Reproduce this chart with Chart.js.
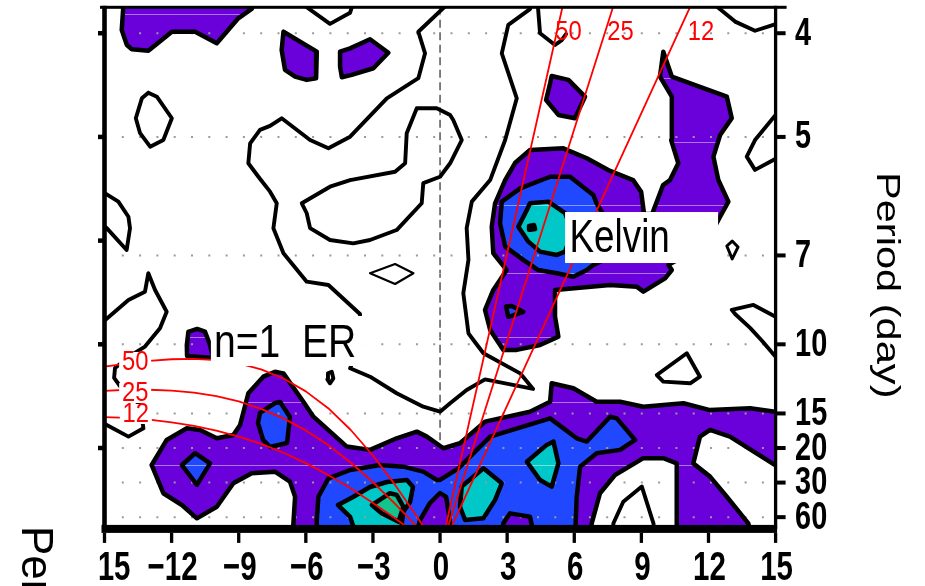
<!DOCTYPE html>
<html>
<head>
<meta charset="utf-8">
<title>Wavenumber-frequency spectrum</title>
<script src="https://cdn.jsdelivr.net/npm/chart.js@4.4.1/dist/chart.umd.min.js"></script>
<style>
  html, body { margin: 0; padding: 0; background: #ffffff; overflow: hidden; }
  canvas { display: block; }
</style>
</head>
<body>
<canvas id="spectrum" width="925" height="586"></canvas>
<script>
// ---- axes -------------------------------------------------------------
const wavenumberTicks = [-15, -12, -9, -6, -3, 0, 3, 6, 9, 12, 15];
const periodTicks = [4, 5, 7, 10, 15, 20, 30, 60];          // days
const frequencyTicks = [0.05, 0.10, 0.15, 0.20, 0.25];      // cpd
const wavenumberRange = [-15, 15];
const frequencyRange = [0.011, 0.2625];

// ---- shallow-water dispersion curves (equivalent depth, m) -----------
const equivalentDepths = ['50', '25', '12'];
const kelvinTopWavenumber = [5.47, 7.73, 11.17];   // wavenumber where each Kelvin line leaves the top
const erWavenumbers = [-15, -14, -13, -12, -11, -10, -9, -8, -7, -6, -5, -4, -3, -2, -1, 0];
const er50 = [0.0892, 0.0907, 0.0920, 0.0928, 0.0930, 0.0924, 0.0908, 0.0879, 0.0835, 0.0773, 0.0692, 0.0588, 0.0464, 0.0321, 0.0164, 0];
const er25 = [0.0776, 0.0781, 0.0781, 0.0777, 0.0767, 0.0750, 0.0725, 0.0689, 0.0643, 0.0585, 0.0514, 0.0430, 0.0335, 0.0229, 0.0117, 0];
const er12 = [0.0649, 0.0645, 0.0637, 0.0624, 0.0607, 0.0584, 0.0555, 0.0520, 0.0477, 0.0427, 0.0370, 0.0306, 0.0235, 0.0160, 0.0081, 0];
const kelvinLabelAt = [[5.74, 0.2506], [8.07, 0.2506], [11.67, 0.2506]];
const erLabelAt = [[-13.63, 0.0915], [-13.63, 0.0765], [-13.60, 0.0664]];
const waveNames = ['Kelvin', 'n=1  ER'];
const waveNameAt = [[5.79, 0.1445], [-10.11, 0.0939]];

// ---- contoured spectral power: [wavenumber, frequency] vertices -------
// first shading level
const purpleTopLeft = [[-14.13,0.2675],[-14.23,0.2516],[-14.00,0.2443],[-13.78,0.2423],[-13.04,0.2416],[-12.22,0.2487],[-11.99,0.2507],[-10.95,0.2507],[-9.98,0.2452],[-9.02,0.2572],[-8.42,0.2617],[-8.23,0.2675]];
const purpleBlobWest = [[-7.00,0.2507],[-5.51,0.2411],[-5.54,0.2283],[-5.96,0.2275],[-6.48,0.2291],[-6.93,0.2323],[-7.08,0.2419]];
const purpleBlobEast = [[-4.47,0.2411],[-4.02,0.2427],[-3.13,0.2471],[-2.31,0.2406],[-2.98,0.2331],[-3.95,0.2299],[-4.39,0.2288],[-4.47,0.2339]];
const purpleKelvinTop = [[4.99,0.2294],[5.74,0.2275],[6.48,0.2194],[6.03,0.2090],[5.29,0.2106],[4.74,0.2178],[4.92,0.2259]];
const purpleKelvin = [[2.38,0.1439],[2.31,0.1567],[2.46,0.1680],[2.91,0.1792],[3.35,0.1874],[4.02,0.1937],[5.51,0.1945],[6.56,0.1897],[7.60,0.1836],[8.63,0.1792],[8.99,0.1735],[9.12,0.1628],[9.48,0.1628],[9.97,0.1768],[10.28,0.1792],[10.65,0.1873],[10.33,0.1985],[10.36,0.2194],[9.83,0.2291],[9.98,0.2411],[10.36,0.2291],[12.82,0.2194],[13.04,0.2090],[12.52,0.2009],[12.22,0.1905],[12.44,0.1792],[12.89,0.1688],[12.52,0.1615],[11.85,0.1479],[10.21,0.1383],[10.36,0.1358],[10.06,0.1318],[9.09,0.1254],[8.79,0.1278],[7.60,0.1286],[5.14,0.1262],[5.14,0.1133],[5.29,0.1037],[4.47,0.0997],[3.43,0.0973],[2.83,0.0973],[2.24,0.1069],[2.01,0.1166],[2.38,0.1262],[2.98,0.1358]];
const purpleErSmall = [[-11.25,0.1060],[-10.86,0.1074],[-10.51,0.1061],[-10.28,0.0997],[-10.15,0.0934],[-11.31,0.0944],[-11.32,0.0997]];
const purpleLowBand = [[-12.89,0.0418],[-12.22,0.0539],[-11.32,0.0595],[-10.73,0.0587],[-9.98,0.0547],[-9.24,0.0563],[-8.94,0.0611],[-8.57,0.0764],[-7.90,0.0844],[-7.38,0.0868],[-7.00,0.0860],[-6.11,0.0723],[-5.66,0.0651],[-4.17,0.0507],[-3.13,0.0491],[-1.94,0.0547],[-1.04,0.0579],[-0.59,0.0555],[0.15,0.0499],[0.89,0.0523],[2.01,0.0627],[4.02,0.0675],[4.92,0.0723],[4.99,0.0812],[5.96,0.0788],[7.00,0.0723],[8.05,0.0723],[9.09,0.0699],[10.88,0.0716],[12.07,0.0683],[13.86,0.0692],[14.98,0.0675],[15.65,0.0674],[15.65,0.0394],[14.98,0.0418],[12.96,0.0555],[12.07,0.0587],[11.62,0.0555],[11.32,0.0426],[12.07,0.0362],[12.82,0.0265],[13.78,0.0137],[13.95,0.0057],[10.59,0.0057],[10.58,0.0137],[10.58,0.0426],[9.98,0.0451],[9.09,0.0451],[7.82,0.0370],[7.15,0.0282],[6.78,0.0137],[6.71,0.0057],[-6.57,0.0057],[-6.56,0.0129],[-6.48,0.0265],[-6.71,0.0338],[-7.38,0.0386],[-8.42,0.0378],[-9.24,0.0330],[-9.98,0.0217],[-10.87,0.0161],[-11.54,0.0225],[-12.37,0.0282]];
const purpleNotchZero = [[-1.16,0.0057],[-0.89,0.0153],[-0.45,0.0235],[0.00,0.0283],[0.27,0.0264],[0.40,0.0177],[0.54,0.0057]];
const purpleNotchEast = [[2.82,0.0057],[2.83,0.0137],[3.13,0.0185],[4.02,0.0169],[4.25,0.0057]];
// second shading level
const blueErWest = [[-11.54,0.0418],[-10.95,0.0475],[-10.28,0.0426],[-10.87,0.0322]];
const blueErMid = [[-8.05,0.0669],[-7.38,0.0717],[-7.15,0.0722],[-6.71,0.0650],[-6.84,0.0524],[-7.60,0.0505],[-7.91,0.0539],[-8.14,0.0621]];
const blueLowBand = [[-5.51,0.0057],[-5.51,0.0153],[-5.44,0.0265],[-4.99,0.0354],[-4.02,0.0394],[-2.68,0.0418],[-1.64,0.0410],[-0.75,0.0386],[-0.15,0.0346],[0.00,0.0346],[0.82,0.0402],[2.24,0.0555],[4.92,0.0643],[6.11,0.0547],[6.56,0.0531],[7.60,0.0651],[7.90,0.0643],[8.72,0.0539],[8.05,0.0491],[7.00,0.0475],[6.26,0.0410],[6.11,0.0265],[6.03,0.0057]];
const blueKelvin = [[2.76,0.1688],[3.58,0.1752],[4.92,0.1808],[5.81,0.1808],[6.85,0.1720],[7.00,0.1680],[7.29,0.1628],[7.69,0.1513],[7.15,0.1397],[6.85,0.1383],[6.56,0.1358],[5.96,0.1326],[5.22,0.1343],[4.39,0.1358],[3.72,0.1407],[2.91,0.1471],[2.68,0.1584]];
const blueKelvinSpeck = [[2.95,0.1182],[3.20,0.1185],[3.72,0.1157],[3.20,0.1137],[3.05,0.1133]];
// third shading level
const cyanEr = [[-4.56,0.0225],[-3.89,0.0264],[-3.13,0.0312],[-2.37,0.0336],[-1.48,0.0346],[-1.21,0.0312],[-1.34,0.0240],[-1.65,0.0192],[-1.79,0.0057],[-3.67,0.0057],[-4.02,0.0168]];
const cyanLowWest = [[0.97,0.0314],[1.94,0.0402],[2.76,0.0330],[2.46,0.0250],[1.94,0.0161],[1.12,0.0153],[0.89,0.0217]];
const cyanLowEast = [[3.88,0.0434],[4.77,0.0515],[5.07,0.0531],[5.29,0.0426],[4.99,0.0314],[4.47,0.0346]];
const cyanKelvin = [[3.88,0.1648],[4.02,0.1680],[4.84,0.1688],[5.59,0.1633],[5.90,0.1542],[5.59,0.1447],[5.22,0.1431],[4.47,0.1447],[3.95,0.1495],[3.50,0.1567]];
// fourth shading level
const greenEr = [[-3.05,0.0225],[-2.24,0.0282],[-1.94,0.0274],[-1.64,0.0217],[-1.86,0.0145],[-2.61,0.0185]];
const greenKelvin = [[3.98,0.1571],[4.20,0.1575],[4.25,0.1556],[4.02,0.1552]];
// unshaded contour lines
const loopNorthWest = [[-13.04,0.2213],[-12.66,0.2194],[-11.99,0.2090],[-12.37,0.1985],[-12.96,0.1953],[-13.41,0.2018],[-13.60,0.2090],[-13.33,0.2186]];
const lineTopV = [[-6.60,0.2675],[-4.92,0.2545],[-4.02,0.2599],[-3.80,0.2675]];
const valleyContour = [[0.67,0.2675],[-0.97,0.2507],[-0.67,0.2403],[-0.97,0.2283],[-2.38,0.2186],[-4.02,0.2001],[-4.99,0.1945],[-5.81,0.1985],[-7.08,0.2090],[-7.60,0.2053],[-8.05,0.2034],[-8.49,0.1969],[-8.57,0.1873],[-8.12,0.1808],[-7.60,0.1736],[-7.30,0.1680],[-7.45,0.1560],[-7.00,0.1439],[-5.96,0.1302],[-4.99,0.1286],[-3.58,0.1146],[-3.49,0.1021],[-4.02,0.0885],[-3.13,0.0844],[-1.94,0.0764],[-0.75,0.0699],[0.00,0.0675],[0.45,0.0716],[1.19,0.0780],[2.01,0.0831],[4.16,0.0785],[3.58,0.0860],[1.94,0.0957],[1.49,0.1021],[1.27,0.1053],[1.04,0.1246],[1.27,0.1407],[1.19,0.1560],[1.42,0.1688],[2.24,0.1792],[2.91,0.1985],[3.43,0.2186],[2.76,0.2403],[3.05,0.2540],[4.02,0.2616],[4.16,0.2675]];
const loopCentral = [[-4.02,0.1792],[-2.01,0.1832],[-1.56,0.1873],[-1.49,0.2018],[-1.04,0.2138],[-0.15,0.2138],[0.45,0.2106],[0.59,0.2082],[0.97,0.1985],[0.45,0.1873],[0.00,0.1808],[-0.75,0.1777],[-0.82,0.1680],[-1.94,0.1551],[-3.13,0.1503],[-3.88,0.1487],[-4.92,0.1503],[-5.81,0.1560],[-5.96,0.1632],[-6.18,0.1680],[-4.92,0.1760]];
const diamondCentral = [[-3.13,0.1343],[-2.01,0.1387],[-1.19,0.1343],[-2.01,0.1291]];
const lineTopLip = [[4.34,0.2675],[4.47,0.2500],[5.14,0.2443],[5.44,0.2467],[5.63,0.2496]];
const lineTopEast = [[11.85,0.2675],[13.19,0.2556],[14.08,0.2512],[14.90,0.2540],[15.65,0.2564]];
const diamondEast = [[12.82,0.1474],[13.06,0.1498],[13.32,0.1469],[13.06,0.1412]];
const tongueEast = [[15.65,0.1093],[15.00,0.1133],[14.01,0.1190],[13.04,0.1166],[13.19,0.1146],[13.86,0.1079],[14.40,0.1016],[15.00,0.0940],[15.65,0.0867]];
const tongueEastUpper = [[15.65,0.2178],[15.00,0.2106],[14.08,0.1985],[13.71,0.1905],[14.08,0.1841],[14.90,0.1889],[15.65,0.1932]];
const loopWestEdge = [[-15.65,0.1768],[-14.97,0.1728],[-14.38,0.1688],[-13.93,0.1615],[-13.86,0.1560],[-14.01,0.1455],[-14.90,0.1560],[-15.65,0.1619]];
const lineWestEdge = [[-15.65,0.1069],[-14.97,0.1117],[-13.93,0.1214],[-13.19,0.1254],[-13.04,0.1343],[-12.74,0.1262],[-12.22,0.1157],[-12.52,0.1077],[-13.19,0.0989],[-13.86,0.0944],[-14.53,0.0886],[-14.57,0.0838],[-14.31,0.0799],[-13.41,0.0708],[-13.26,0.0595],[-13.93,0.0555],[-14.90,0.0611],[-15.65,0.0655]];
const ellipseEr = [[-5.01,0.0860],[-4.84,0.0868],[-4.77,0.0836],[-4.92,0.0812],[-5.04,0.0831]];
const lineLowPocket = [[7.70,0.0057],[7.75,0.0137],[8.19,0.0241],[9.02,0.0314],[9.54,0.0137],[9.61,0.0057]];
const triangleEast = [[9.69,0.0852],[11.03,0.0957],[11.62,0.0844],[11.18,0.0812],[9.98,0.0820]];

// ---- styling ---------------------------------------------------------
const FONT = '"Liberation Sans", Arial, Helvetica, sans-serif';
const SHADE = { purple: '#6A00DA', blue: '#2048FF', cyan: '#00C8C8', green: '#12C48E' };
const RED = '#FF0000';
const seamFrequencies = [0.2593, 0.2284, 0.1976, 0.1672, 0.1344, 0.1036, 0.0722, 0.0418];

const toXY = pts => pts.map(([x, y]) => ({ x, y }));
const layers = [];

function addShade(points, color, width = 4.5) {
  layers.push({
    data: toXY(points.concat([points[0]])), showLine: true, fill: 'shape',
    backgroundColor: color, borderColor: '#000', borderWidth: width,
    pointRadius: 0, pointHoverRadius: 0, tension: 0,
    borderJoinStyle: 'round', borderCapStyle: 'round', clip: 0
  });
}
function addLine(points, opts = {}) {
  const { closed = false, width = 3.9, color = '#000' } = opts;
  const pts = closed ? points.concat([points[0]]) : points;
  layers.push({
    data: toXY(pts), showLine: true, fill: false,
    borderColor: color, borderWidth: width,
    pointRadius: 0, pointHoverRadius: 0, tension: 0,
    borderJoinStyle: 'round', borderCapStyle: 'round', clip: 0
  });
}

// bottom to top
[purpleLowBand, purpleKelvin, purpleTopLeft, purpleBlobWest, purpleBlobEast, purpleKelvinTop, purpleErSmall]
  .forEach(p => addShade(p, SHADE.purple));
[blueErWest, blueErMid, blueLowBand, blueKelvin, blueKelvinSpeck].forEach(p => addShade(p, SHADE.blue));
[purpleNotchZero, purpleNotchEast].forEach(p => addShade(p, SHADE.purple));
[cyanEr, cyanLowWest, cyanLowEast, cyanKelvin].forEach(p => addShade(p, SHADE.cyan));
[greenEr, greenKelvin].forEach(p => addShade(p, SHADE.green));

[loopNorthWest, loopCentral, ellipseEr, triangleEast].forEach(p => addLine(p, { closed: true }));
addLine(diamondCentral, { closed: true, width: 2.2 });
addLine(diamondEast, { closed: true, width: 3 });
[lineTopV, valleyContour, lineTopLip, lineTopEast, tongueEast, tongueEastUpper, loopWestEdge, lineWestEdge, lineLowPocket]
  .forEach(p => addLine(p));

kelvinTopWavenumber.forEach(k => addLine([[0, 0], [k, frequencyRange[1]]], { color: RED, width: 1.8 }));
[er50, er25, er12].forEach(series =>
  addLine(erWavenumbers.map((k, i) => [k, series[i]]), { color: RED, width: 1.8 }));

layers.forEach((d, i) => { d.order = layers.length - i; });

// ---- drawing helpers ---------------------------------------------------
function drawText(ctx, str, x, y, o) {
  ctx.save();
  ctx.translate(x, y);
  if (o.rot) ctx.rotate(o.rot);
  ctx.scale(o.sx || 1, 1);
  ctx.font = `${o.weight || 'normal'} ${o.size}px ${FONT}`;
  ctx.textAlign = o.align || 'left';
  ctx.textBaseline = o.base || 'alphabetic';
  ctx.fillStyle = o.color || '#000';
  ctx.fillText(str, 0, 0);
  ctx.restore();
}
// solid bar between two points (horizontal or vertical), w = thickness
function bar(ctx, x1, y1, x2, y2, w) {
  ctx.save();
  ctx.fillStyle = '#000';
  if (y1 === y2) ctx.fillRect(Math.min(x1, x2), y1 - w / 2, Math.abs(x2 - x1), w);
  else ctx.fillRect(x1 - w / 2, Math.min(y1, y2), w, Math.abs(y2 - y1));
  ctx.restore();
}

const framePlugin = {
  id: 'spectrumFrame',
  beforeDraw(chart) {
    const { ctx, chartArea: a, scales: { x } } = chart;
    const x0 = x.getPixelForValue(0);
    ctx.save();
    ctx.strokeStyle = '#555'; ctx.lineWidth = 1.5; ctx.setLineDash([8, 4.5]);
    ctx.beginPath(); ctx.moveTo(x0, a.top); ctx.lineTo(x0, a.bottom); ctx.stroke();
    ctx.restore();
  },
  beforeDatasetsDraw(chart) {
    const { ctx, chartArea: a, scales: { y } } = chart;
    ctx.save();
    ctx.strokeStyle = 'rgba(255,255,255,0.45)'; ctx.lineWidth = 1;
    seamFrequencies.forEach(f => {
      const yy = Math.round(y.getPixelForValue(f)) + 0.5;
      ctx.beginPath(); ctx.moveTo(a.left, yy); ctx.lineTo(a.right, yy); ctx.stroke();
    });
    ctx.strokeStyle = '#9a9a9a'; ctx.lineWidth = 2; ctx.setLineDash([2, 15.3]);
    periodTicks.forEach(p => {
      const yy = y.getPixelForValue(1 / p);
      ctx.beginPath(); ctx.moveTo(a.left, yy); ctx.lineTo(a.right, yy); ctx.stroke();
    });
    ctx.restore();
  },
  afterDatasetsDraw(chart) {
    const { ctx, chartArea: a, scales: { x, y } } = chart;

    // wave-type names on white boxes
    const boxes = [
      { dx: -4.5, dy: -40, w: 153, h: 51, size: 46, sx: 0.80 },
      { dx: -3, dy: -41, w: 155, h: 50, size: 46, sx: 0.85 }
    ];
    waveNames.forEach((name, i) => {
      const X = x.getPixelForValue(waveNameAt[i][0]);
      const Y = y.getPixelForValue(waveNameAt[i][1]);
      const b = boxes[i];
      ctx.fillStyle = '#fff';
      ctx.fillRect(X + b.dx, Y + b.dy, b.w, b.h);
      drawText(ctx, name, X, Y, { size: b.size, sx: b.sx });
    });

    // equivalent-depth labels
    equivalentDepths.forEach((d, i) => {
      const X = x.getPixelForValue(erLabelAt[i][0]);
      const Y = y.getPixelForValue(erLabelAt[i][1]);
      ctx.fillStyle = '#fff';
      ctx.fillRect(X - 16, Y - 10, 32, 20);
      drawText(ctx, d, X, Y, { size: 28, sx: 0.85, align: 'center', base: 'middle', color: RED });
      const KX = x.getPixelForValue(kelvinLabelAt[i][0]);
      const KY = y.getPixelForValue(kelvinLabelAt[i][1]);
      drawText(ctx, d, KX, KY, { size: 28, sx: 0.85, align: 'center', base: 'middle', color: RED });
    });

    // frame
    bar(ctx, a.left - 4.5, a.top, a.right + 11, a.top, 3);
    bar(ctx, a.left, a.top - 1.5, a.left, a.bottom, 4.6);
    bar(ctx, a.right, a.top - 1.5, a.right, a.bottom, 3.3);
    bar(ctx, a.left - 3, a.bottom, a.right + 1.5, a.bottom, 8);

    // ticks
    frequencyTicks.forEach(f => {
      const yy = y.getPixelForValue(f);
      bar(ctx, a.left - 6.5, yy, a.left, yy, 4.5);
    });
    periodTicks.forEach(p => {
      const yy = y.getPixelForValue(1 / p);
      bar(ctx, a.right, yy, a.right + 10, yy, 4);
      drawText(ctx, String(p), a.right + 19.5, yy + 1,
        { size: 38, weight: 'bold', sx: 0.76, base: 'middle' });
    });
    ctx.save();
    ctx.beginPath(); ctx.rect(a.left - 5, 0, 925, 586); ctx.clip();
    wavenumberTicks.forEach(k => {
      const xx = x.getPixelForValue(k);
      bar(ctx, xx, a.bottom + 4, xx, a.bottom + 14, 3.3);
      const label = k < 0 ? '\u2212' + Math.abs(k) : String(k);
      drawText(ctx, label, xx + 1, a.bottom + 51,
        { size: 41, weight: 'bold', sx: 0.72, align: 'center' });
    });
    ctx.restore();

    // axis titles
    drawText(ctx, 'Period (day)', a.right + 101, 172, { size: 33, sx: 1.26, rot: Math.PI / 2 });
    drawText(ctx, 'Period (day)', 22, 526, { size: 44, rot: Math.PI / 2 });
  }
};

new Chart(document.getElementById('spectrum'), {
  type: 'scatter',
  data: { datasets: layers },
  options: {
    responsive: false,
    animation: false,
    devicePixelRatio: 1,
    events: [],
    layout: { padding: { left: 104.5, right: 149.4, top: 7.3, bottom: 57.1 } },
    scales: {
      x: { type: 'linear', min: wavenumberRange[0], max: wavenumberRange[1], display: false },
      y: { type: 'linear', min: frequencyRange[0], max: frequencyRange[1], display: false }
    },
    plugins: {
      legend: { display: false },
      tooltip: { enabled: false },
      filler: { drawTime: 'beforeDatasetsDraw' }
    }
  },
  plugins: [framePlugin]
});
</script>
</body>
</html>
